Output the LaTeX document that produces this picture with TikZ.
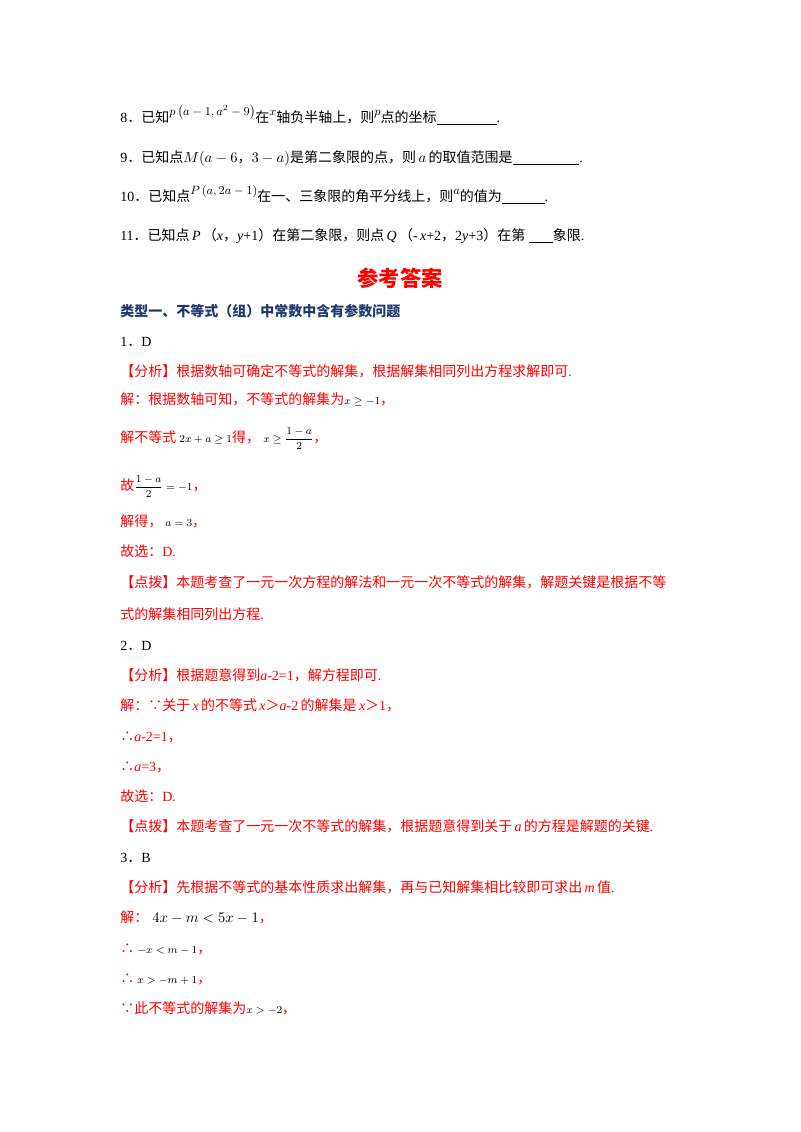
\documentclass[tikz,border=0pt]{standalone}
\usepackage{amsmath}
\usepackage{fontspec}
\setmainfont{Liberation Serif}
\newfontfamily\cjk{Noto Sans CJK SC}
\newcommand\C[1]{{\cjk #1}}
\newcommand\up[1]{\raisebox{5pt}{\small$#1$}}
\definecolor{rd}{RGB}{255,0,0}
\definecolor{hd}{RGB}{31,56,110}
\tikzset{ln/.style={anchor=base west,inner sep=0pt,font=\fontsize{10.5pt}{12pt}\selectfont},
 r/.style={ln,text=rd}}
\begin{document}
\begin{tikzpicture}[x=0.75pt,y=-0.75pt]
\useasboundingbox[fill=white] (0,0) rectangle (800,1132);
\node[ln] (q8) at (120,122) {8\C{．已知}\up{p\left(a-1,a^2-9\right)}\C{在}\up{x}\C{轴负半轴上，则}\up{p}\C{点的坐标}\underline{\hspace{45pt}}.};
\node[ln] (q9) at (120,162) {9\C{．已知点}$M(a-6$\C{，}$3-a)$\C{是第二象限的点，则}$\,a\,$\C{的取值范围是}\underline{\hspace{50pt}}.};
\node[ln] (q10) at (120,201) {10\C{．已知点}\up{P\left(a,2a-1\right)}\C{在一、三象限的角平分线上，则}\up{a}\C{的值为}\underline{\hspace{32pt}}.};
\node[ln] (q11) at (120,240) {11\C{．已知点}\,\textit{P}\,\C{（}\textit{x}\C{，}\textit{y}+1\C{）在第二象限，则点}\,\textit{Q}\,\C{（}-\,\textit{x}+2\C{，}2\textit{y}+3\C{）在第}\ \underline{\hspace{18pt}}\C{象限}.};
\node[anchor=base,inner sep=0pt,text=rd,font=\fontsize{16pt}{18pt}\selectfont\cjk\bfseries] (title) at (400,286) {参考答案};
\node[ln,text=hd,font=\fontsize{10.5pt}{12pt}\selectfont\cjk\bfseries] (h1) at (120,316) {类型一、不等式（组）中常数中含有参数问题};
\node[ln] (a1) at (120,346) {1\C{．}D};
\node[r] (a1b) at (120,376) {\C{【分析】根据数轴可确定不等式的解集，根据解集相同列出方程求解即可}.};
\node[r] (a1c) at (120,404) {\C{解：根据数轴可知，不等式的解集为}{\color{black}\footnotesize$x\geq-1$}\C{，}};
\node[r] (a1d) at (120,442) {\C{解不等式}{\color{black}\footnotesize$\;2x+a\geq1$}\C{得，}{\color{black}\footnotesize$\;x\geq\dfrac{1-a}{2}$}\C{，}};
\node[r] (a1e) at (120,490) {\C{故}{\color{black}\footnotesize$\dfrac{1-a}{2}=-1$}\C{，}};
\node[r] (a1f) at (120,526) {\C{解得，}{\color{black}\footnotesize$\;a=3$}\C{，}};
\node[r] (a1g) at (120,556) {\C{故选：}D.};
\node[r] (a1h) at (120,587) {\C{【点拨】本题考查了一元一次方程的解法和一元一次不等式的解集，解题关键是根据不等}};
\node[r] (a1i) at (120,619) {\C{式的解集相同列出方程}.};
\node[ln] (a2) at (120,650) {2\C{．}D};
\node[r] (a2b) at (120,680) {\C{【分析】根据题意得到}\textit{a}-2=1\C{，解方程即可}.};
\node[r] (a2c) at (120,710) {\C{解：∵关于}\,\textit{x}\,\C{的不等式}\,\textit{x}\C{＞}\textit{a}-2\,\C{的解集是}\,\textit{x}\C{＞}1\C{，}};
\node[r] (a2d) at (120,741) {\C{∴}\textit{a}-2=1\C{，}};
\node[r] (a2e) at (120,771) {\C{∴}\textit{a}=3\C{，}};
\node[r] (a2f) at (120,801) {\C{故选：}D.};
\node[r] (a2g) at (120,831) {\C{【点拨】本题考查了一元一次不等式的解集，根据题意得到关于}\,\textit{a}\,\C{的方程是解题的关键}.};
\node[ln] (a3) at (120,862) {3\C{．}B};
\node[r] (a3b) at (120,892) {\C{【分析】先根据不等式的基本性质求出解集，再与已知解集相比较即可求出}\,\textit{m}\,\C{值}.};
\node[r] (a3c) at (120,922) {\C{解：}{\color{black}$\;4x-m<5x-1$}\C{，}};
\node[r] (a3d) at (120,953) {\C{∴}{\color{black}\footnotesize$\;-x<m-1$}\C{，}};
\node[r] (a3e) at (120,983) {\C{∴}{\color{black}\footnotesize$\;x>-m+1$}\C{，}};
\node[r] (a3f) at (120,1013) {\C{∵此不等式的解集为}{\color{black}\footnotesize$x>-2$}\C{，}};
\end{tikzpicture}
\end{document}
